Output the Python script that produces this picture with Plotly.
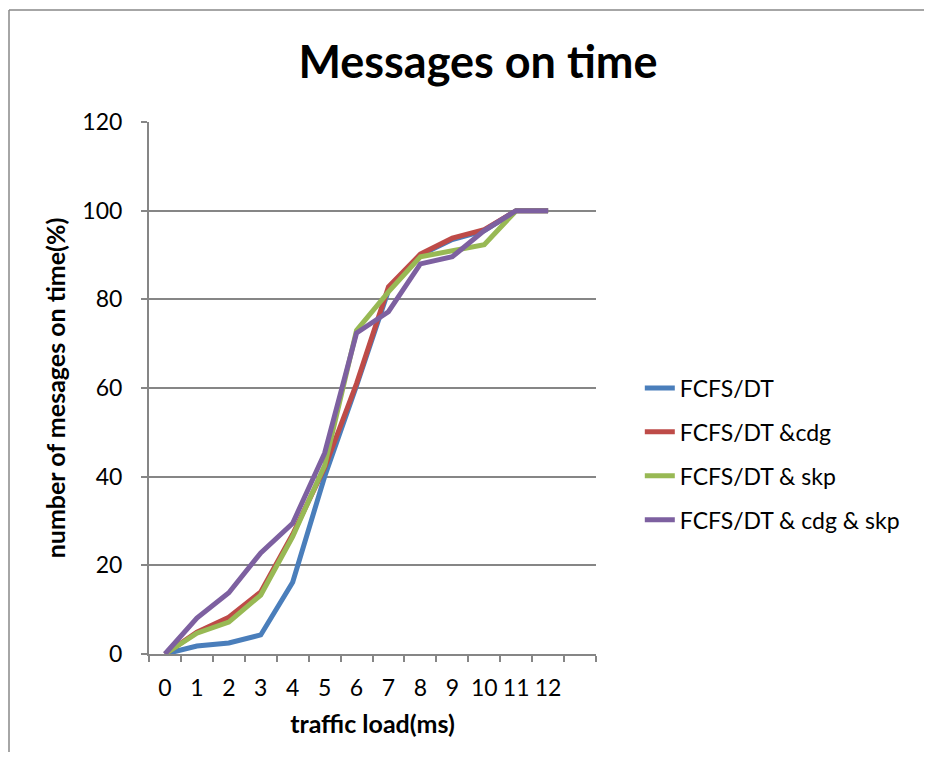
import plotly.graph_objects as go

GRID = "#868686"
FONT = "Lato"

traffic_load = list(range(13))
tick_labels = [str(v) for v in traffic_load]

fcfs_dt = [0, 1.8, 2.5, 4.3, 16.2, 40, 60.5, 82, 90, 93.5, 95.5, 100, 100]
fcfs_dt_cdg = [0, 4.9, 8.3, 14.0, 27.0, 42.0, 61.0, 82.8, 90.2, 93.8, 95.7, 100, 100]
fcfs_dt_skp = [0, 4.7, 7.2, 13.3, 26.5, 42.5, 73.0, 81.7, 89.6, 91.0, 92.3, 100, 100]
fcfs_dt_cdg_skp = [0, 8.1, 13.8, 22.8, 29.5, 45.3, 72.4, 77.2, 88.0, 89.6, 95.5, 100, 100]

series = [
    ("FCFS/DT", fcfs_dt, "#4A7EBB"),
    ("FCFS/DT &cdg", fcfs_dt_cdg, "#BE4B48"),
    ("FCFS/DT & skp", fcfs_dt_skp, "#98B954"),
    ("FCFS/DT & cdg & skp", fcfs_dt_cdg_skp, "#7D60A0"),
]

# page body adds an 8px margin, so the figure is shrunk to avoid scrollbars
W, H = 918, 744
L, T, PW, PH = 141, 114, 447, 532

fig = go.Figure()

for name, values, color in series:
    fig.add_trace(
        go.Scatter(
            x=traffic_load,
            y=values,
            name=name,
            legendgroup=name,
            mode="lines",
            line=dict(color=color, width=5),
        )
    )

fig.update_layout(
    width=W,
    height=H,
    paper_bgcolor="white",
    plot_bgcolor="white",
    font=dict(family=FONT, color="black", size=23),
    margin=dict(l=L, r=W - L - PW, t=T, b=H - T - PH),
    title=dict(
        text="<b>Messages on time</b>",
        font=dict(size=45, family=FONT),
        x=470 / W,
        xref="container",
        xanchor="center",
        y=1 - 54 / H,
        yref="container",
        yanchor="middle",
    ),
    legend=dict(
        x=1.098,
        y=(T + PH - 446) / PH,
        xanchor="left",
        yanchor="middle",
        font=dict(size=23),
        tracegroupgap=11,
        bgcolor="rgba(0,0,0,0)",
    ),
    showlegend=True,
)

fig.update_xaxes(
    range=[-0.5, 13.5],
    tickmode="array",
    tickvals=traffic_load,
    ticktext=tick_labels,
    ticks="",
    ticklabelstandoff=12,
    showgrid=False,
    showline=True,
    linecolor=GRID,
    linewidth=2,
    zeroline=False,
    minor=dict(ticks="outside", ticklen=6, tickcolor=GRID, tickwidth=2,
               tick0=-0.5, dtick=1, showgrid=False),
    title=dict(text="<b>traffic load(ms)</b>", font=dict(size=25), standoff=16),
)

fig.update_yaxes(
    range=[0, 120],
    dtick=20,
    ticks="outside",
    ticklen=6,
    tickcolor=GRID,
    tickwidth=2,
    showgrid=True,
    gridcolor=GRID,
    gridwidth=2,
    showline=True,
    linecolor=GRID,
    linewidth=2,
    zeroline=False,
    ticklabelstandoff=14,
    title=dict(text="<b>number of mesages on time(%)</b>", font=dict(size=25), standoff=10),
)

# chart frame like the spreadsheet chart border (top and left edges only)
fx = (1 - L) / PW
fx_end = (W - 2 - L) / PW
fy = (PH + T - 2) / PH
fig.add_shape(type="line", xref="paper", yref="paper",
              x0=fx, x1=fx_end, y0=fy, y1=fy,
              line=dict(color="#888888", width=1.5))
fig.add_shape(type="line", xref="paper", yref="paper",
              x0=fx, x1=fx, y0=fy, y1=-0.5,
              line=dict(color="#888888", width=1.5))

fig.write_html("out.html")
